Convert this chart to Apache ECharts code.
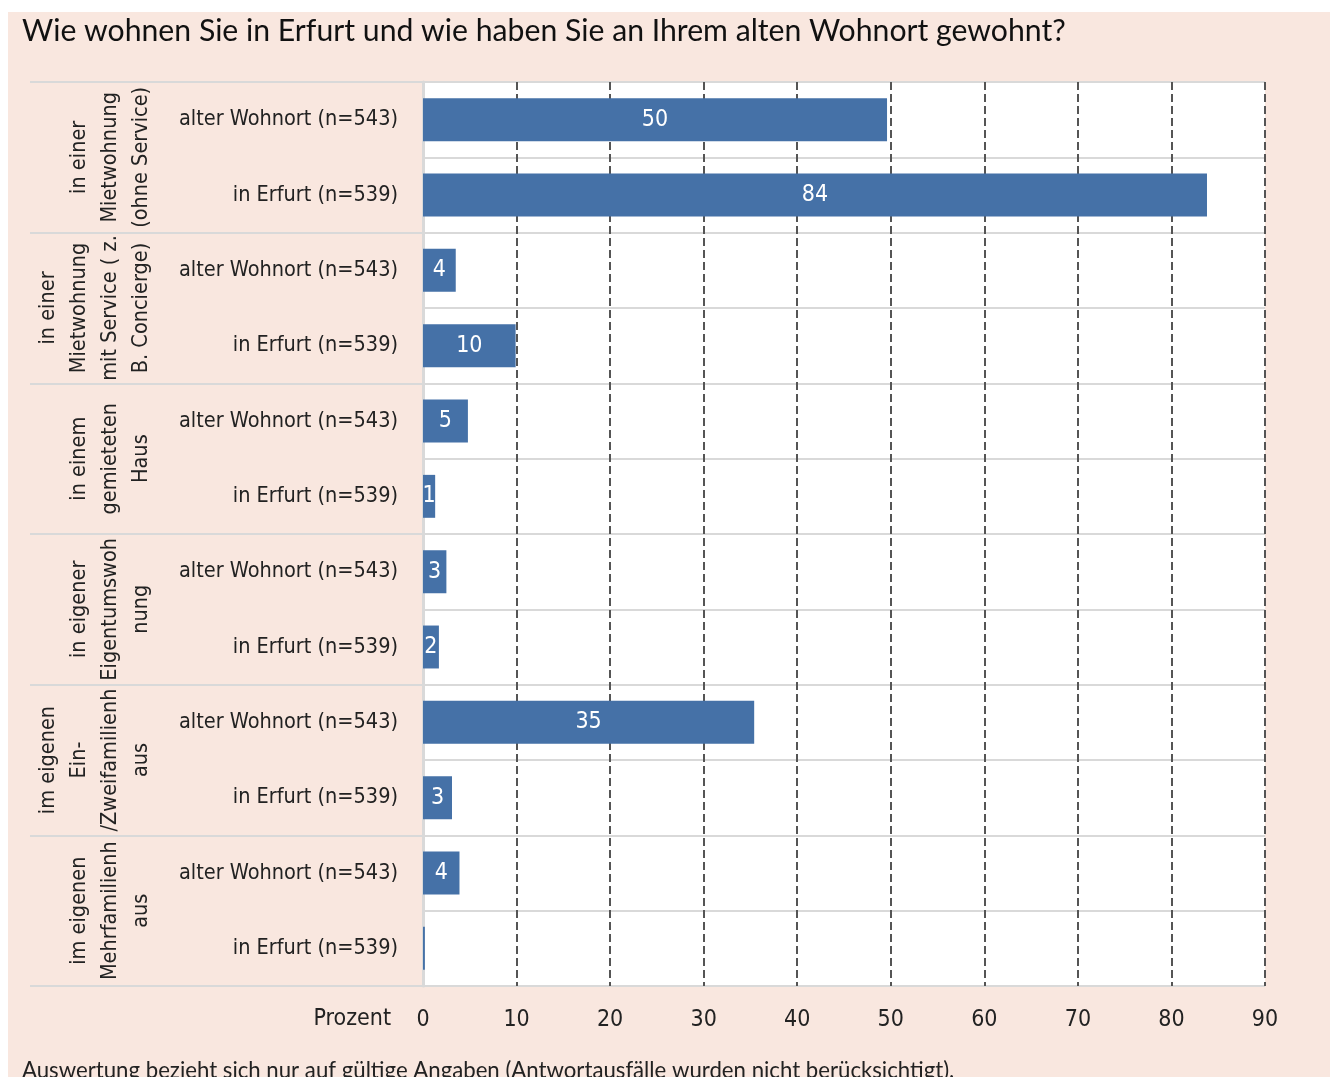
<!DOCTYPE html>
<html>
<head>
<meta charset="utf-8">
<script src="https://cdn.jsdelivr.net/npm/echarts@6/dist/echarts.min.js"></script>
<style>
  html, body { margin: 0; padding: 0; background: #ffffff; }
  #chart { width: 1333px; height: 1077px; }
</style>
</head>
<body>
<div id="chart"></div>
<script>
// Zeilen (je Gruppe: alter Wohnort / in Erfurt)
var rowLabels = [
  'alter Wohnort (n=543)', 'in Erfurt (n=539)',
  'alter Wohnort (n=543)', 'in Erfurt (n=539)',
  'alter Wohnort (n=543)', 'in Erfurt (n=539)',
  'alter Wohnort (n=543)', 'in Erfurt (n=539)',
  'alter Wohnort (n=543)', 'in Erfurt (n=539)',
  'alter Wohnort (n=543)', 'in Erfurt (n=539)'
];
var groupLabels = [
  'in einer\nMietwohnung\n(ohne Service)',
  'in einer\nMietwohnung\nmit Service ( z.\nB. Concierge)',
  'in einem\ngemieteten\nHaus',
  'in eigener\nEigentumswoh\nnung',
  'im eigenen\nEin-\n/Zweifamilienh\naus',
  'im eigenen\nMehrfamilienh\naus'
];
// Prozentwerte
var percent = [49.6, 83.8, 3.5, 9.9, 4.8, 1.3, 2.5, 1.7, 35.4, 3.1, 3.9, 0.2];
var xTicks = { min: 0, max: 90, step: 10 };

var narrow = '"Liberation Sans Narrow", "DejaVu Sans Condensed", "Roboto", sans-serif';
var chart = echarts.init(document.getElementById('chart'));

chart.setOption({
  animation: false,
  backgroundColor: '#ffffff',
  graphic: [{
    type: 'rect',
    z: -10,
    silent: true,
    shape: { x: 8, y: 12, width: 1322, height: 1080 },
    style: { fill: '#f9e7df' }
  }],
  title: [{
    text: 'Wie wohnen Sie in Erfurt und wie haben Sie an Ihrem alten Wohnort gewohnt?',
    left: 17,
    top: 11,
    textStyle: { fontFamily: 'Lato, "Open Sans", sans-serif', fontSize: 30.2, fontWeight: 'normal', color: '#111' }
  }, {
    text: 'Auswertung bezieht sich nur auf gültige Angaben (Antwortausfälle wurden nicht berücksichtigt).',
    left: 17,
    top: 1055,
    textStyle: { fontFamily: 'Lato, "Open Sans", sans-serif', fontSize: 22.2, fontWeight: 'normal', color: '#222' }
  }],
  grid: {
    left: 423, right: 68, top: 82, bottom: 91,
    show: true, backgroundColor: '#ffffff', borderWidth: 0
  },
  xAxis: {
    type: 'value',
    min: xTicks.min, max: xTicks.max, interval: xTicks.step,
    name: 'Prozent',
    nameLocation: 'start',
    nameGap: 32,
    nameTextStyle: { fontFamily: narrow, fontSize: 23, color: '#222', verticalAlign: 'top', padding: [22, 0, 0, 0] },
    axisLine: { show: false },
    axisTick: { show: false },
    axisLabel: { fontFamily: narrow, fontSize: 23, color: '#222', margin: 23 },
    splitLine: { show: true, lineStyle: { color: '#555', width: 2, type: [8, 4] } }
  },
  yAxis: [{
    type: 'category',
    data: rowLabels,
    inverse: true,
    position: 'left',
    axisLine: { show: true, lineStyle: { color: '#d9d9d9', width: 3 } },
    axisTick: { show: false },
    axisLabel: { fontFamily: narrow, fontSize: 21.5, color: '#222', margin: 25, interval: 0 },
    splitLine: { show: true, interval: 0, lineStyle: { color: '#d9d9d9', width: 2 } }
  }, {
    type: 'category',
    data: groupLabels,
    inverse: true,
    position: 'left',
    axisLine: { show: false },
    axisTick: { show: true, interval: 0, length: 393, lineStyle: { color: '#d9d9d9', width: 2 } },
    axisLabel: {
      rotate: 90,
      interval: 0,
      hideOverlap: false,
      fontFamily: narrow, fontSize: 21.5, color: '#222',
      lineHeight: 31, margin: 266, align: 'center'
    },
    splitLine: { show: false }
  }],
  series: [{
    type: 'bar',
    yAxisIndex: 0,
    data: percent,
    barCategoryGap: '43%',
    itemStyle: { color: '#4571a7' },
    label: {
      show: true,
      position: 'inside',
      color: '#ffffff',
      fontFamily: narrow,
      fontSize: 23,
      formatter: function (p) {
        var v = Math.round(p.value);
        return v > 0 ? String(v) : '';
      }
    }
  }]
});
</script>
</body>
</html>
